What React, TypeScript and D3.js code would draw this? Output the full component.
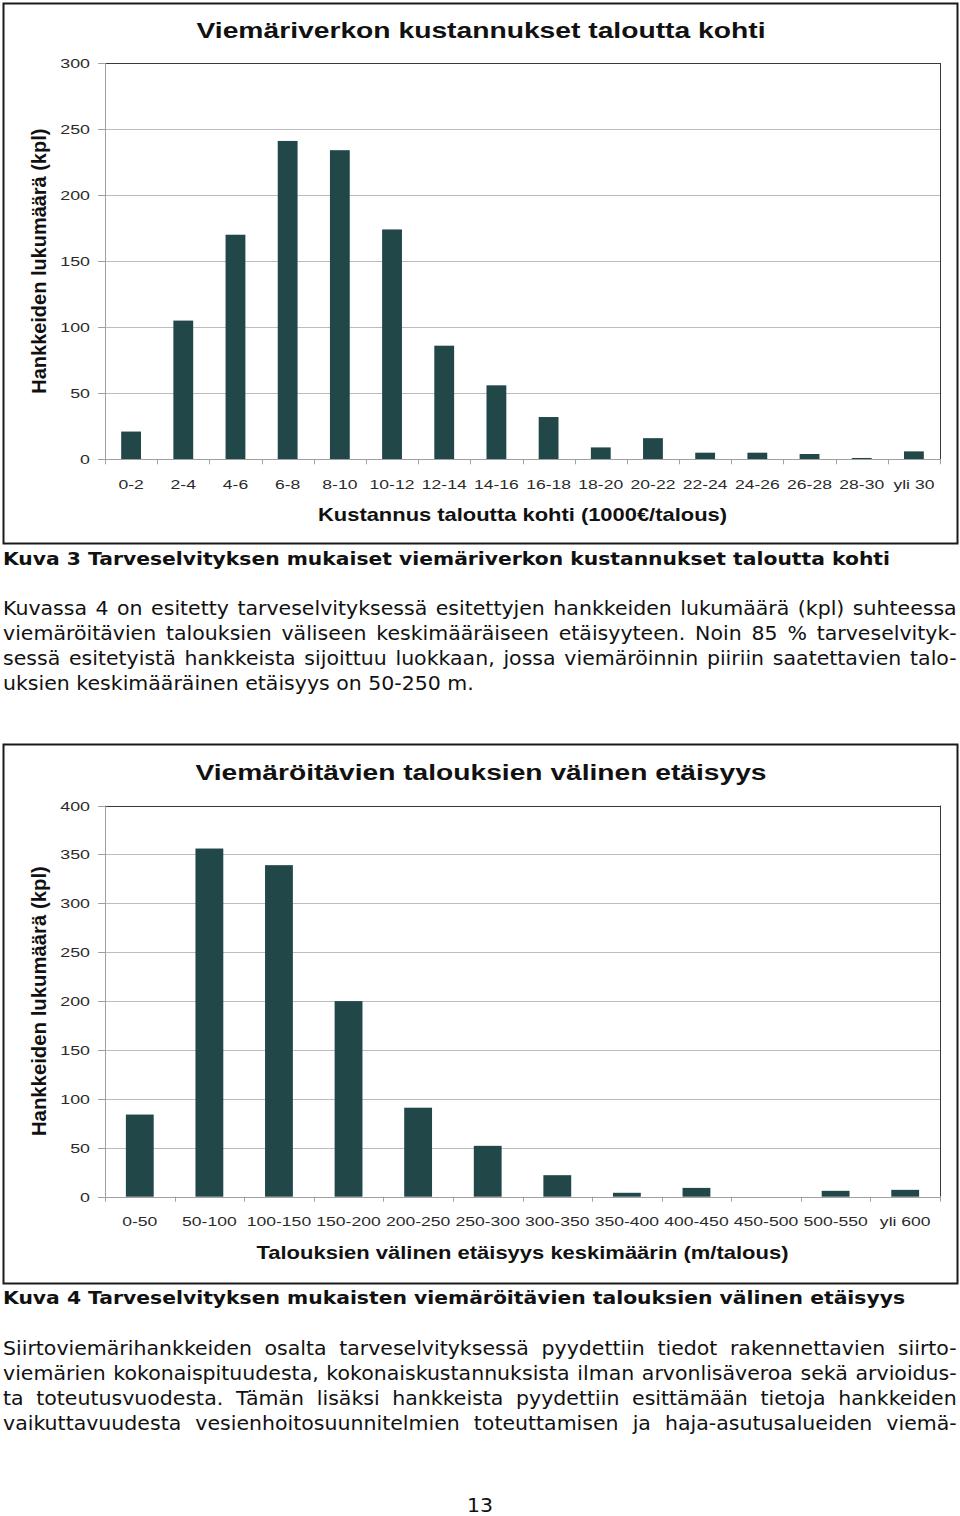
import React from "react";
import * as d3 from "d3";

// ---------- DATA ----------
const costCategories = ["0-2", "2-4", "4-6", "6-8", "8-10", "10-12", "12-14", "14-16", "16-18", "18-20", "20-22", "22-24", "24-26", "26-28", "28-30", "yli 30"];
const costCounts = [21, 105, 170, 241, 234, 174, 86, 56, 32, 9, 16, 5, 5, 4, 1, 6];
const costTicks = [0, 50, 100, 150, 200, 250, 300];

const distCategories = ["0-50", "50-100", "100-150", "150-200", "200-250", "250-300", "300-350", "350-400", "400-450", "450-500", "500-550", "yli 600"];
const distCounts = [84, 356, 339, 200, 91, 52, 22, 4, 9, 0, 6, 7];
const distTicks = [0, 50, 100, 150, 200, 250, 300, 350, 400];

const chart1Title = "Viemäriverkon kustannukset taloutta kohti";
const chart1XTitle = "Kustannus taloutta kohti (1000€/talous)";
const chart2Title = "Viemäröitävien talouksien välinen etäisyys";
const chart2XTitle = "Talouksien välinen etäisyys keskimäärin (m/talous)";
const yTitle = "Hankkeiden lukumäärä (kpl)";

const caption3 = "Kuva 3 Tarveselvityksen mukaiset viemäriverkon kustannukset taloutta kohti";
const caption4 = "Kuva 4 Tarveselvityksen mukaisten viemäröitävien talouksien välinen etäisyys";

const para1 = [
  "Kuvassa 4 on esitetty tarveselvityksessä esitettyjen hankkeiden lukumäärä (kpl) suhteessa",
  "viemäröitävien talouksien väliseen keskimääräiseen etäisyyteen. Noin 85 % tarveselvityk-",
  "sessä esitetyistä hankkeista sijoittuu luokkaan, jossa viemäröinnin piiriin saatettavien talo-",
  "uksien keskimääräinen etäisyys on 50-250 m.",
];
const para2 = [
  "Siirtoviemärihankkeiden osalta tarveselvityksessä pyydettiin tiedot rakennettavien siirto-",
  "viemärien kokonaispituudesta, kokonaiskustannuksista ilman arvonlisäveroa sekä arvioidus-",
  "ta toteutusvuodesta. Tämän lisäksi hankkeista pyydettiin esittämään tietoja hankkeiden",
  "vaikuttavuudesta vesienhoitosuunnitelmien toteuttamisen ja haja-asutusalueiden viemä-",
];
const pageNumber = "13";

// ---------- HELPERS ----------
const W = 960;
const H = 1516;
const BAR = "#214749";
const CHART_FONT = '"Liberation Sans", Arial, sans-serif';
const BODY_FONT_NAME = '"DejaVu Sans", Verdana, sans-serif';
const BODY_SIZE = 19.5;

let _ctx: CanvasRenderingContext2D | null = null;
function measure(text: string, font: string): number {
  if (!_ctx) {
    const c = document.createElement("canvas");
    _ctx = c.getContext("2d");
  }
  if (!_ctx) return text.length * 10;
  _ctx.font = font;
  return _ctx.measureText(text).width;
}

type ChartProps = {
  boxTop: number;
  boxBottom: number;
  plotTop: number;
  plotBottom: number;
  categories: string[];
  values: number[];
  ticks: number[];
  title: string;
  titleBase: number;
  titleLen: number;
  xTitle: string;
  xTitleBase: number;
  xTitleLen: number;
  yTitleLen: number;
  xLabelBase: number;
  barFrac: number;
};

function BarChart(p: ChartProps) {
  const left = 105;
  const right = 940;
  const x = d3.scaleBand<string>().domain(p.categories).range([left, right]).paddingInner(0).paddingOuter(0);
  const maxV = p.ticks[p.ticks.length - 1];
  const y = d3.scaleLinear().domain([0, maxV]).range([p.plotBottom, p.plotTop]);
  const bw = x.bandwidth() * p.barFrac;
  const boundaries = p.categories.map((c) => x(c) as number).concat([right]);
  const cy = (p.plotTop + p.plotBottom) / 2;
  const cx = (left + right) / 2;
  return (
    <g>
      <rect x={3.5} y={p.boxTop + 0.5} width={954} height={p.boxBottom - p.boxTop} fill="#fff" stroke="#1a1a1a" strokeWidth={2} />
      <text x={481} y={p.titleBase} textAnchor="middle" fontFamily={CHART_FONT} fontWeight="bold" fontSize={22} fill="#111" textLength={p.titleLen} lengthAdjust="spacingAndGlyphs">
        {p.title}
      </text>
      {p.ticks.map((t) => (
        <line key={"g" + t} x1={left} x2={right} y1={Math.round(y(t)) + 0.5} y2={Math.round(y(t)) + 0.5} stroke={t === maxV ? "#3a3a3a" : "#bcbcbc"} strokeWidth={1} />
      ))}
      <line x1={right + 0.5} x2={right + 0.5} y1={y(maxV)} y2={y(0)} stroke="#3a3a3a" strokeWidth={1} />
      {p.ticks.map((t) => (
        <g key={"yt" + t}>
          <line x1={left - 7} x2={left} y1={Math.round(y(t)) + 0.5} y2={Math.round(y(t)) + 0.5} stroke="#a0a0a0" />
          <text transform={`translate(90,${y(t) + 5}) scale(1.32,1)`} textAnchor="end" fontFamily={CHART_FONT} fontSize={13.5} fill="#2a2a2a">
            {t}
          </text>
        </g>
      ))}
      {p.categories.map((c, i) => (
        <rect key={"b" + c} x={(x(c) as number) + (x.bandwidth() - bw) / 2} y={y(p.values[i])} width={bw} height={y(0) - y(p.values[i])} fill={BAR} />
      ))}
      <line x1={left + 0.5} x2={left + 0.5} y1={y(maxV)} y2={y(0)} stroke="#a0a0a0" />
      <line x1={left} x2={right} y1={Math.round(y(0)) + 0.5} y2={Math.round(y(0)) + 0.5} stroke="#a0a0a0" />
      {boundaries.map((b, i) => (
        <line key={"xt" + i} x1={Math.round(b) + 0.5} x2={Math.round(b) + 0.5} y1={y(0)} y2={y(0) + 5} stroke="#a0a0a0" />
      ))}
      {p.categories.map((c) => (
        <text key={"xl" + c} transform={`translate(${(x(c) as number) + x.bandwidth() / 2},${p.xLabelBase}) scale(1.3,1)`} textAnchor="middle" fontFamily={CHART_FONT} fontSize={13.5} fill="#2a2a2a">
          {c}
        </text>
      ))}
      <text x={cx} y={p.xTitleBase} textAnchor="middle" fontFamily={CHART_FONT} fontWeight="bold" fontSize={18.5} fill="#111" textLength={p.xTitleLen} lengthAdjust="spacingAndGlyphs">
        {p.xTitle}
      </text>
      <text transform={`translate(46,${cy}) rotate(-90)`} textAnchor="middle" fontFamily={CHART_FONT} fontWeight="bold" fontSize={20} fill="#111" textLength={p.yTitleLen} lengthAdjust="spacingAndGlyphs">
        {yTitle}
      </text>
    </g>
  );
}

function Paragraph({ lines, baseY, justifyLast, sx }: { lines: string[]; baseY: number; justifyLast: boolean; sx: number }) {
  const font = `${BODY_SIZE}px ${BODY_FONT_NAME}`;
  const target = 954;
  return (
    <g>
      {lines.map((line, i) => {
        const isLast = i === lines.length - 1;
        const justify = !isLast || justifyLast;
        const nat = measure(line, font);
        const spaces = (line.match(/ /g) || []).length;
        const ws = justify && spaces > 0 ? (target / sx - nat) / spaces : 0;
        return (
          <text key={i} transform={`translate(3,${baseY + i * 25}) scale(${sx},1)`} fontFamily={BODY_FONT_NAME} fontSize={BODY_SIZE} fill="#111" style={{ wordSpacing: `${ws}px` }}>
            {line}
          </text>
        );
      })}
    </g>
  );
}

export default function App() {
  const bodyFont = `${BODY_SIZE}px ${BODY_FONT_NAME}`;
  const sx = 471 / measure(para1[3], bodyFont);
  return (
    <svg width={W} height={H} viewBox={`0 0 ${W} ${H}`} style={{ position: "absolute", left: 0, top: 0, background: "#fff" }}>
      <rect x={0} y={0} width={W} height={H} fill="#fff" />
      <BarChart
        boxTop={3}
        boxBottom={543}
        plotTop={63}
        plotBottom={459.3}
        categories={costCategories}
        values={costCounts}
        ticks={costTicks}
        title={chart1Title}
        titleBase={38}
        titleLen={569}
        xTitle={chart1XTitle}
        xTitleBase={521}
        xTitleLen={409}
        yTitleLen={265}
        xLabelBase={489}
        barFrac={0.38}
      />
      <text x={3} y={565} fontFamily={BODY_FONT_NAME} fontWeight="bold" fontSize={17} fill="#111" textLength={887} lengthAdjust="spacingAndGlyphs">
        {caption3}
      </text>
      <Paragraph lines={para1} baseY={615} justifyLast={false} sx={sx} />

      <BarChart
        boxTop={744}
        boxBottom={1283}
        plotTop={805.5}
        plotBottom={1196.7}
        categories={distCategories}
        values={distCounts}
        ticks={distTicks}
        title={chart2Title}
        titleBase={780}
        titleLen={571}
        xTitle={chart2XTitle}
        xTitleBase={1259}
        xTitleLen={532}
        yTitleLen={270}
        xLabelBase={1226}
        barFrac={0.4}
      />
      <text x={3} y={1304} fontFamily={BODY_FONT_NAME} fontWeight="bold" fontSize={17} fill="#111" textLength={902} lengthAdjust="spacingAndGlyphs">
        {caption4}
      </text>
      <Paragraph lines={para2} baseY={1355} justifyLast={true} sx={sx} />
      <text x={480} y={1512} textAnchor="middle" fontFamily={BODY_FONT_NAME} fontSize={BODY_SIZE} fill="#111" transform={`translate(${480 * (1 - sx)},0) scale(${sx},1)`}>
        {pageNumber}
      </text>
    </svg>
  );
}
